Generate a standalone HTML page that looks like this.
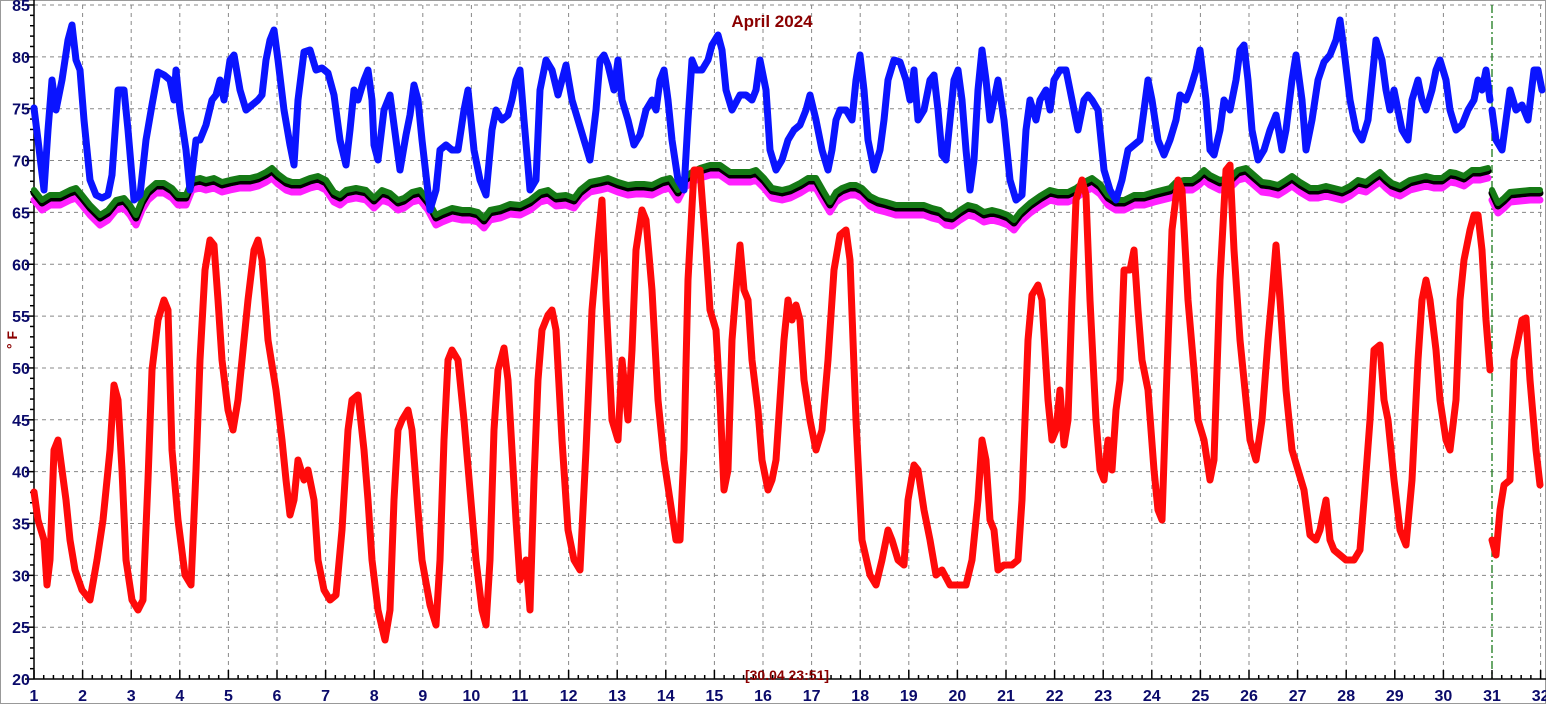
<!DOCTYPE html>
<html><head><meta charset="utf-8"><style>
html,body{margin:0;padding:0;background:#fff}
svg{display:block}
text{font-family:"Liberation Sans",Arial,sans-serif;font-weight:bold}
</style></head><body>
<svg id="s" width="1546" height="704" viewBox="0 0 1546 704" xmlns="http://www.w3.org/2000/svg">
<rect x="0.5" y="0.5" width="1545" height="703" fill="#fff" stroke="#999"/>
<g id="grid" stroke="#888" stroke-dasharray="4,4" stroke-width="1"></g>
<line x1="1492" y1="5" x2="1492" y2="679" stroke="#1a7a1a" stroke-width="1.3" stroke-dasharray="8,3,2,3"/>
<g id="axes" stroke="#000" stroke-width="1.5"></g>
<g id="lbl" fill="#0a0a6a" font-size="16"></g>
<g fill="none" stroke-linejoin="round" stroke-linecap="round" stroke-width="7">
<polyline id="mag" stroke="#ff20ff" transform="translate(0,10)"/>
<polyline id="blk" stroke="#000" transform="translate(0,3)"/>
<polyline id="grn" stroke="#157a15" stroke-width="6"/>
<polyline id="mag2" stroke="#ff20ff" transform="translate(0,10)"/>
<polyline id="blk2" stroke="#000" transform="translate(0,3)"/>
<polyline id="grn2" stroke="#157a15" stroke-width="6"/>
<polyline id="blu" stroke="#0a14ff"/>
<polyline id="blu2" stroke="#0a14ff"/>
<polyline id="red" stroke="#ff0a0a"/>
<polyline id="red2" stroke="#ff0a0a"/>
</g>
<text x="772" y="27" text-anchor="middle" fill="#8b0000" font-size="17">April 2024</text>
<text x="787" y="680" text-anchor="middle" fill="#8b0000" font-size="14">[30.04 23:51]</text>
<text transform="translate(17,340) rotate(-90)" text-anchor="middle" fill="#8b0000" font-size="14">° F</text>
</svg>
<script>
var NS="http://www.w3.org/2000/svg";
function el(p,t,a){var e=document.createElementNS(NS,t);for(var k in a)e.setAttribute(k,a[k]);p.appendChild(e);return e;}
var g=document.getElementById('grid'),ax=document.getElementById('axes'),lb=document.getElementById('lbl');
function X(d){return 34+(d-1)*48.6;}function Y(v){return 5+(85-v)*10.37;}
for(var d=2;d<=32;d++){if(d!=31)el(g,'line',{x1:X(d),y1:5,x2:X(d),y2:679});}
for(var v=25;v<=85;v+=5){el(g,'line',{x1:34,y1:Y(v),x2:1546,y2:Y(v)});}
el(ax,'line',{x1:34,y1:0,x2:34,y2:679});el(ax,'line',{x1:34,y1:679,x2:1546,y2:679});
for(var v=20;v<=85;v++){var L=(v%5==0)?9:4;el(ax,'line',{x1:34-L,y1:Y(v),x2:34,y2:Y(v)});}
for(var i=0;i<=155;i++){var d=1+i*0.2;var L=(i%5==0)?9:4;if(X(d)>1546)break;el(ax,'line',{x1:X(d),y1:679-L,x2:X(d),y2:679});}
for(var v=20;v<=85;v+=5){var t=el(lb,'text',{x:21,y:Y(v)+6,'text-anchor':'middle'});t.textContent=v;}
for(var d=1;d<=32;d++){var t=el(lb,'text',{x:X(d),y:701,'text-anchor':'middle'});t.textContent=d;}
function P(id,s){document.getElementById(id).setAttribute('points',s);}
var red1="34,492 38,520 44,540 47,585 50,560 54,450 58,440 62,470 66,500 70,540 75,570 82,590 90,600 97,560 103,520 110,450 114,385 118,400 122,470 126,560 132,600 138,610 143,600 148,480 152,370 158,320 164,300 168,310 172,450 178,520 185,575 191,585 196,470 200,360 205,270 210,240 214,245 218,300 222,360 228,410 233,430 238,400 242,360 248,300 254,250 258,240 262,260 268,340 276,390 282,440 286,480 290,515 294,500 298,460 304,480 308,470 314,500 318,560 324,590 330,600 336,595 342,530 348,430 352,400 358,395 364,450 368,500 372,560 378,610 385,640 390,610 394,500 398,430 402,420 408,410 412,430 418,510 422,560 430,605 436,625 440,560 444,440 448,360 452,350 458,360 464,420 470,490 476,560 482,610 486,625 490,560 494,430 498,370 504,348 508,380 512,450 516,520 520,580 526,560 530,610 534,480 538,380 542,330 548,315 552,310 556,330 562,440 568,530 574,560 580,570 586,450 592,310 598,240 602,200 606,300 612,420 618,440 622,360 628,420 632,350 636,250 642,210 646,220 652,290 658,400 664,460 670,500 676,540 680,540 684,450 688,280 694,170 700,170 706,250 710,310 716,330 720,400 724,490 728,470 732,340 736,290 740,245 744,290 748,300 752,360 758,410 762,460 768,490 772,480 776,460 780,400 784,340 788,300 792,320 796,305 800,320 804,380 810,420 816,450 822,430 828,360 834,270 840,235 846,230 850,260 856,420 862,540 870,575 876,585 882,560 888,530 892,540 898,560 904,565 908,500 914,465 918,470 924,510 930,540 936,575 942,570 950,585 958,585 966,585 972,560 978,500 982,440 986,460 990,520 994,530 998,570 1004,565 1012,565 1018,560 1022,500 1028,340 1032,295 1038,285 1042,300 1048,400 1052,440 1056,430 1060,390 1064,445 1068,420 1072,300 1076,200 1082,180 1086,195 1090,300 1096,420 1100,470 1104,480 1108,440 1112,470 1116,410 1120,380 1124,270 1130,270 1134,250 1138,310 1142,360 1148,390 1154,470 1158,510 1162,520 1166,400 1172,230 1178,180 1182,190 1188,300 1194,370 1198,420 1204,440 1210,480 1214,460 1220,280 1226,170 1230,165 1234,250 1240,340 1246,400 1250,440 1256,460 1262,420 1268,340 1272,295 1276,245 1280,300 1286,390 1292,450 1298,470 1304,490 1310,535 1316,540 1320,530 1326,500 1330,540 1334,550 1340,555 1346,560 1354,560 1360,550 1364,500 1370,420 1374,350 1380,345 1384,400 1388,420 1394,480 1400,530 1406,545 1412,480 1418,360 1422,300 1426,280 1430,300 1436,350 1440,400 1446,440 1450,450 1456,400 1460,300 1464,260 1470,230 1474,215 1478,215 1482,250 1486,320 1490,370";
P('red',red1);P('red2',"1492,540 1496,555 1500,510 1504,485 1510,480 1514,360 1518,340 1522,320 1526,318 1530,380 1536,450 1540,485");
P('blu',"34,108 38,140 44,190 48,130 52,80 56,110 62,80 68,40 72,25 76,60 80,70 84,120 90,180 96,195 102,198 108,195 112,175 118,90 124,90 128,130 134,200 140,195 146,140 152,105 158,72 164,75 170,80 174,100 176,70 180,110 186,150 190,190 196,140 200,140 206,125 212,100 216,95 220,80 224,100 230,60 234,55 240,90 246,110 252,105 258,100 262,95 266,60 270,40 274,30 278,60 284,110 290,145 294,165 298,100 304,52 310,50 316,70 322,68 328,73 334,95 340,140 346,165 350,130 354,90 358,100 364,80 368,70 372,100 374,145 378,160 384,110 390,95 396,140 400,170 406,135 410,115 414,85 418,100 422,140 426,175 430,210 436,190 440,150 446,145 452,150 458,150 464,110 468,90 474,150 480,180 486,195 492,130 496,110 502,120 508,115 512,100 516,80 520,70 524,120 530,190 536,180 540,90 546,60 552,70 558,95 562,80 566,65 572,100 578,120 584,140 590,160 596,110 600,60 604,55 608,65 614,90 618,60 622,100 628,120 634,145 640,135 646,110 652,100 656,110 660,80 664,70 668,100 672,140 678,180 684,190 688,120 692,60 696,70 702,70 708,60 712,45 718,35 722,50 726,90 732,110 740,95 746,95 752,100 756,90 760,60 766,90 770,150 776,170 782,160 788,140 794,130 800,125 806,110 810,95 816,120 822,150 828,170 832,150 836,120 840,110 846,110 852,120 856,80 860,55 864,90 868,140 874,170 880,150 884,120 888,80 894,60 900,62 906,80 910,100 914,70 918,120 924,110 930,80 934,75 938,110 942,155 946,160 950,120 954,80 958,70 962,100 966,150 970,190 974,160 978,90 982,50 986,80 990,120 994,100 998,80 1004,120 1010,180 1016,200 1022,195 1026,130 1030,100 1036,120 1040,100 1046,90 1050,110 1054,80 1060,70 1066,70 1072,100 1078,130 1084,100 1088,95 1092,100 1098,110 1104,170 1110,190 1116,200 1122,180 1128,150 1134,145 1140,140 1144,110 1148,80 1152,100 1158,140 1164,155 1170,140 1176,120 1180,95 1186,100 1190,90 1196,70 1200,50 1206,100 1210,150 1214,155 1220,130 1224,100 1230,110 1236,80 1240,50 1244,45 1248,80 1252,130 1258,160 1264,150 1270,130 1276,115 1282,150 1286,130 1292,80 1296,55 1302,100 1306,150 1312,120 1318,80 1324,62 1330,55 1336,40 1340,20 1344,50 1350,100 1356,130 1362,140 1368,120 1372,80 1376,40 1382,60 1386,90 1390,110 1394,90 1398,110 1402,130 1408,140 1412,100 1418,80 1422,100 1426,110 1432,90 1436,70 1440,60 1446,80 1450,110 1456,130 1462,125 1468,110 1474,100 1478,80 1482,90 1486,70 1490,100");
P('blu2',"1492,110 1496,140 1502,150 1506,120 1510,90 1516,110 1522,105 1528,120 1534,70 1538,70 1542,90");
var gr="34,190 42,200 50,195 60,195 70,190 76,188 82,195 90,205 100,215 108,210 116,200 124,198 130,205 136,215 142,200 148,190 156,183 164,183 172,188 178,195 186,195 192,180 200,178 206,180 214,178 222,182 230,180 240,178 250,178 258,176 266,172 272,168 278,174 286,180 292,182 300,182 310,178 318,176 326,180 334,192 340,195 346,190 356,188 366,190 374,198 382,190 390,193 398,200 404,198 412,192 420,190 428,200 436,215 442,212 452,208 462,210 470,210 478,212 484,218 490,210 500,208 510,204 520,205 530,200 540,192 548,190 556,196 566,195 574,198 580,190 590,182 600,180 608,178 618,182 628,185 636,184 644,184 652,185 662,180 670,178 678,190 684,178 692,172 700,168 710,165 720,165 730,172 740,172 750,172 756,170 764,178 772,188 782,190 790,188 800,183 808,178 816,178 824,192 830,202 836,192 842,188 850,185 856,185 862,188 870,196 878,200 886,202 896,205 906,205 914,205 924,205 932,208 940,210 946,215 952,216 960,210 968,205 976,207 984,212 992,210 1000,212 1008,215 1014,220 1020,212 1030,203 1040,196 1050,190 1058,192 1068,192 1076,188 1084,182 1092,178 1100,184 1108,195 1116,200 1124,200 1134,195 1144,195 1154,192 1162,190 1170,188 1176,182 1184,180 1192,180 1198,176 1204,170 1210,175 1220,180 1230,178 1238,170 1246,168 1254,175 1262,182 1270,183 1278,185 1286,180 1292,176 1300,182 1310,188 1318,188 1326,186 1334,188 1342,190 1350,186 1358,180 1366,182 1374,176 1380,172 1386,178 1392,183 1400,186 1410,180 1418,178 1426,176 1434,178 1442,178 1450,172 1456,173 1464,176 1472,170 1480,170 1488,168";
var gr2="1492,190 1498,203 1504,198 1510,192 1520,191 1530,190 1540,190";
P('grn',gr);P('blk',gr);P('mag',gr);P('grn2',gr2);P('blk2',gr2);P('mag2',gr2);
</script>
</body></html>
